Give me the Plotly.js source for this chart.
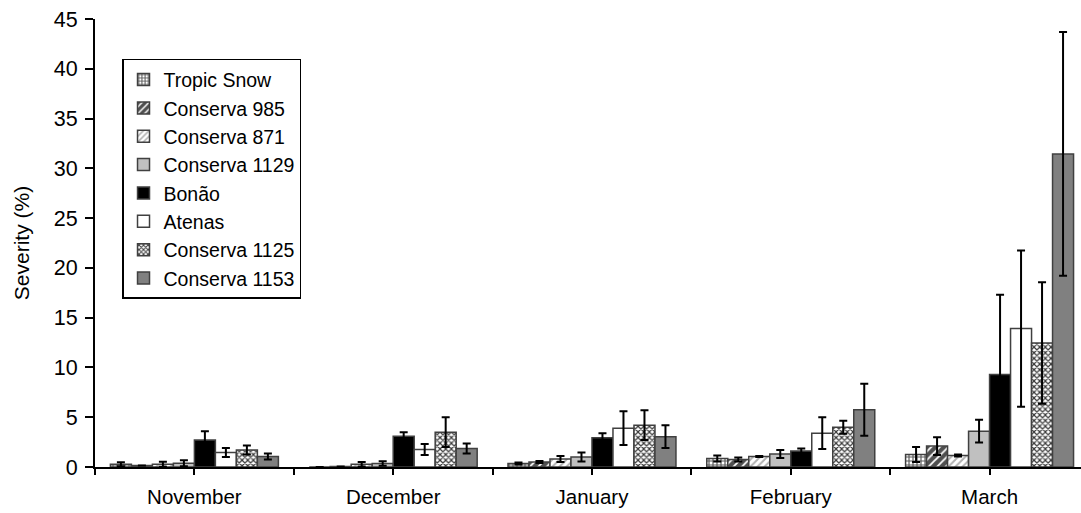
<!DOCTYPE html>
<html>
<head>
<meta charset="utf-8">
<script src="https://cdn.plot.ly/plotly-3.0.1.min.js"></script>
<style>html,body{margin:0;padding:0;background:#fff;}#chart{width:1081px;height:513px;}</style>
</head>
<body>
<div id="chart"></div>
<script>
const months = ["November", "December", "January", "February", "March"];
const seriesNames = ["Tropic Snow", "Conserva 985", "Conserva 871", "Conserva 1129", "Bonão", "Atenas", "Conserva 1125", "Conserva 1153"];

const tropicSnow   = [0.27, 0.00, 0.35, 0.85, 1.25];
const conserva985  = [0.15, 0.05, 0.50, 0.75, 2.10];
const conserva871  = [0.27, 0.27, 0.80, 1.05, 1.15];
const conserva1129 = [0.37, 0.35, 1.00, 1.30, 3.60];
const bonao        = [2.70, 3.10, 2.95, 1.60, 9.30];
const atenas       = [1.45, 1.75, 3.90, 3.40, 13.90];
const conserva1125 = [1.70, 3.50, 4.20, 4.00, 12.45];
const conserva1153 = [1.05, 1.85, 3.05, 5.75, 31.45];

const errTropicSnow   = [0.20, 0.00, 0.10, 0.30, 0.75];
const errConserva985  = [0.00, 0.00, 0.10, 0.20, 0.90];
const errConserva871  = [0.25, 0.23, 0.30, 0.05, 0.10];
const errConserva1129 = [0.30, 0.22, 0.45, 0.40, 1.15];
const errBonao        = [0.90, 0.40, 0.45, 0.25, 8.00];
const errAtenas       = [0.45, 0.55, 1.70, 1.60, 7.85];
const errConserva1125 = [0.45, 1.50, 1.50, 0.65, 6.10];
const errConserva1153 = [0.30, 0.50, 1.15, 2.60, 12.25];

const values = [tropicSnow, conserva985, conserva871, conserva1129, bonao, atenas, conserva1125, conserva1153];
const errors = [errTropicSnow, errConserva985, errConserva871, errConserva1129, errBonao, errAtenas, errConserva1125, errConserva1153];

const styles = [
  {color: "#ffffff", pattern: {shape: "+", fgcolor: "#5a5a5a", bgcolor: "#ffffff", size: 4, solidity: 0.5}},
  {color: "#505050", pattern: {shape: "/", fgcolor: "#ffffff", bgcolor: "#505050", size: 6, solidity: 0.3}},
  {color: "#ffffff", pattern: {shape: "/", fgcolor: "#b0b0b0", bgcolor: "#ffffff", size: 5, solidity: 0.4}},
  {color: "#c0c0c0"},
  {color: "#000000"},
  {color: "#ffffff"},
  {color: "#ffffff", pattern: {shape: "x", fgcolor: "#3a3a3a", bgcolor: "#ffffff", size: 4, solidity: 0.5}},
  {color: "#808080"}
];

const xIdx = months.map((m, i) => i);

const traces = seriesNames.map((name, k) => {
  const marker = {color: styles[k].color, line: {color: "#404040", width: 1.5}};
  if (styles[k].pattern) marker.pattern = styles[k].pattern;
  return {
    type: "bar",
    name: name,
    x: xIdx,
    y: values[k],
    legendgroup: "g" + k,
    marker: marker,
    error_y: {type: "data", array: errors[k], visible: true, color: "#000000", thickness: 2, width: 4}
  };
});

const tickvals = [];
const ticktext = [];
months.forEach((m, i) => {
  tickvals.push(i - 0.5); ticktext.push("");
  tickvals.push(i); ticktext.push(m);
});

const layout = {
  width: 1081,
  height: 513,
  margin: {l: 95, r: 0, t: 19, b: 46},
  paper_bgcolor: "#ffffff",
  plot_bgcolor: "#ffffff",
  font: {family: "Liberation Sans, Arial, sans-serif", color: "#000000", size: 20},
  barmode: "group",
  bargap: 0.155,
  bargroupgap: 0,
  showlegend: true,
  legend: {
    x: 0.0274, y: 0.911, xanchor: "left", yanchor: "top",
    bgcolor: "#ffffff", bordercolor: "#000000", borderwidth: 1.5,
    font: {size: 19.5, family: "Liberation Sans, Arial, sans-serif"},
    tracegroupgap: 1.3,
    traceorder: "normal"
  },
  xaxis: {
    type: "linear",
    range: [-0.5, 4.46],
    tickmode: "array",
    tickvals: tickvals,
    ticktext: ticktext,
    ticks: "outside",
    ticklen: 6,
    tickwidth: 2,
    tickcolor: "#000000",
    ticklabelstandoff: 4,
    showline: true,
    linecolor: "#000000",
    linewidth: 2,
    showgrid: false,
    zeroline: false,
    tickfont: {size: 20.5}
  },
  yaxis: {
    range: [0, 45],
    dtick: 5,
    tick0: 0,
    ticks: "outside",
    ticklen: 8,
    tickwidth: 2,
    tickcolor: "#000000",
    ticklabelstandoff: 3,
    showline: true,
    linecolor: "#000000",
    linewidth: 2,
    showgrid: false,
    zeroline: false,
    tickfont: {size: 21.5},
    title: {text: "Severity (%)", font: {size: 21}, standoff: 18}
  }
};

Plotly.newPlot("chart", traces, layout, {displayModeBar: false, staticPlot: true});
</script>
</body>
</html>
